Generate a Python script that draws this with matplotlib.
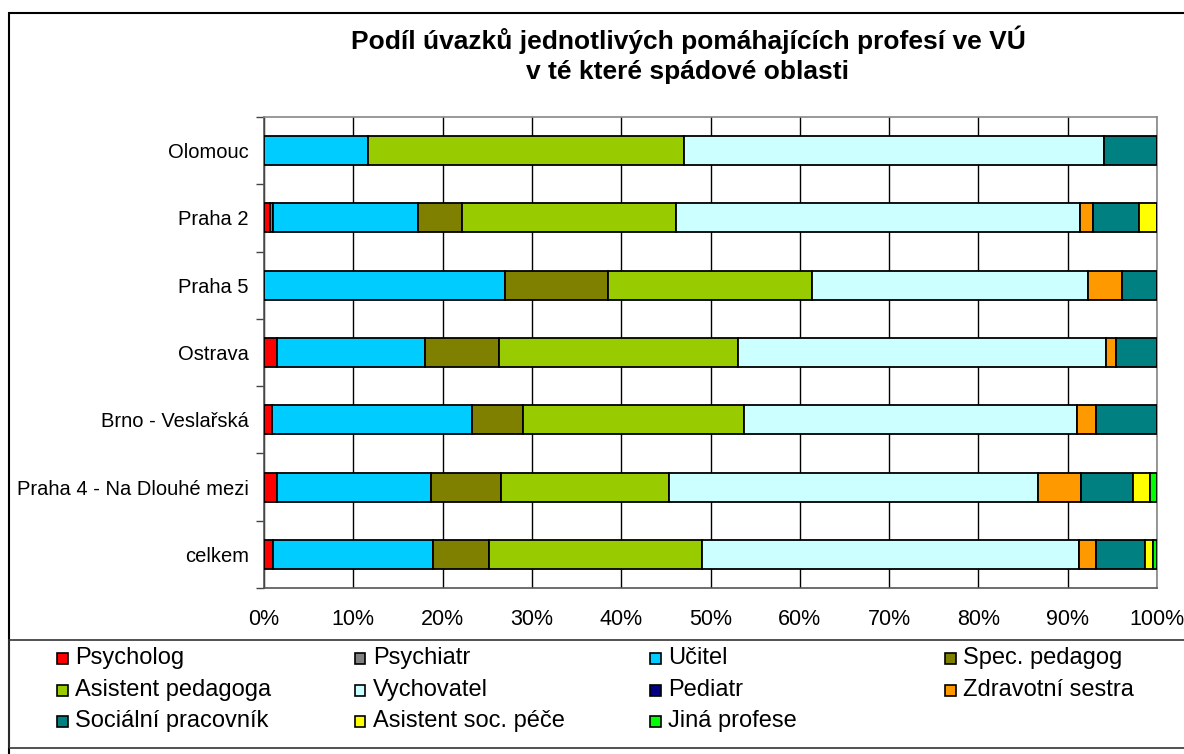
import numpy as np
import matplotlib
matplotlib.use("Agg")
import matplotlib.pyplot as plt
from matplotlib.patches import Rectangle

plt.rcParams['font.family'] = ['Liberation Sans', 'DejaVu Sans']

# data (share of each profession in %, categories top to bottom)
categories = ["Olomouc", "Praha 2", "Praha 5", "Ostrava", "Brno - Veslařská",
              "Praha 4 - Na Dlouhé mezi", "celkem"]
professions = ["Psycholog", "Psychiatr", "Učitel", "Spec. pedagog",
               "Asistent pedagoga", "Vychovatel", "Pediatr", "Zdravotní sestra",
               "Sociální pracovník", "Asistent soc. péče", "Jiná profese"]
psycholog = [0, 0.7, 0, 1.5, 0.9, 1.5, 1.0]
psychiatr = [0, 0.3, 0, 0, 0, 0, 0]
ucitel = [11.7, 16.3, 27.0, 16.5, 22.4, 17.2, 17.9]
spec_pedagog = [0, 4.9, 11.5, 8.3, 5.7, 7.8, 6.3]
asistent_ped = [35.3, 23.9, 22.9, 26.8, 24.8, 18.9, 23.8]
vychovatel = [47.1, 45.3, 30.9, 41.2, 37.2, 41.3, 42.3]
pediatr = [0, 0, 0, 0, 0, 0, 0]
zdrav_sestra = [0, 1.4, 3.8, 1.1, 2.2, 4.8, 1.9]
socialni = [5.9, 5.2, 3.9, 4.6, 6.8, 5.8, 5.5]
asistent_soc = [0, 2.0, 0, 0, 0, 1.9, 0.9]
jina = [0, 0, 0, 0, 0, 0.8, 0.4]
x_ticklabels = ["0%", "10%", "20%", "30%", "40%", "50%", "60%", "70%", "80%", "90%", "100%"]

series = [psycholog, psychiatr, ucitel, spec_pedagog, asistent_ped, vychovatel,
          pediatr, zdrav_sestra, socialni, asistent_soc, jina]
colors = ["#FF0000", "#808080", "#00CCFF", "#808000", "#99CC00", "#CCFFFF",
          "#000080", "#FF9900", "#008080", "#FFFF00", "#00FF00"]

W, H = 1184, 754
fig = plt.figure(figsize=(W / 100, H / 100), dpi=100)

def fx(px):
    return px / W

def fy(py):
    return 1 - py / H

# outer frame and legend frame
fig.patches.append(Rectangle((fx(9), fy(760)), 1.2, fy(12.5) - fy(760),
                             transform=fig.transFigure, fill=False,
                             edgecolor="black", linewidth=1.5))
fig.patches.append(Rectangle((fx(9), fy(748)), 1.2, fy(640) - fy(748),
                             transform=fig.transFigure, fill=False,
                             edgecolor="#333333", linewidth=1.2))

ax = fig.add_axes([fx(264), fy(588), fx(1157) - fx(264), fy(117) - fy(588)])

y = np.arange(len(categories))
left = np.zeros(len(categories))
for vals, col in zip(series, colors):
    vals = np.array(vals, dtype=float)
    ax.barh(y, vals, left=left, height=0.43, color=col, edgecolor="black",
            linewidth=1.3, zorder=3)
    left += vals

ax.set_xlim(0, 100)
ax.set_ylim(len(categories) - 0.5, -0.5)
ax.set_xticks(np.arange(0, 101, 10))
ax.set_xticklabels(x_ticklabels, fontsize=15.5)
ax.set_yticks(y)
ax.set_yticklabels(categories, fontsize=14.5)
ax.set_yticks(np.arange(-0.5, len(categories), 1), minor=True)
ax.tick_params(axis="x", length=0, pad=15)
ax.tick_params(axis="y", which="major", length=0, pad=11)
ax.tick_params(axis="y", which="minor", length=6, width=1, color="#444444")
ax.grid(axis="x", color="black", linewidth=1, zorder=0)
for s in ax.spines.values():
    s.set_color("#888888")
    s.set_linewidth(1.2)
ax.spines["left"].set_color("#555555")
ax.spines["bottom"].set_color("#555555")

fig.text(fx(688), fy(40), "Podíl úvazků jednotlivých pomáhajících profesí ve VÚ",
         ha="center", va="center", fontsize=19, fontweight="bold")
fig.text(fx(688), fy(72), "v té které spádové oblasti",
         ha="center", va="center", fontsize=19, fontweight="bold")

# legend, 4 columns
col_x = [62, 360, 655, 950]
row_y = [658, 690, 721]
for i, (name, col) in enumerate(zip(professions, colors)):
    cx = col_x[i % 4]
    cy = row_y[i // 4]
    fig.patches.append(Rectangle((fx(cx - 5.5), fy(cy + 5.5)), fx(11), fy(0) - fy(11),
                                 transform=fig.transFigure, facecolor=col,
                                 edgecolor="black", linewidth=1.2))
    fig.text(fx(cx + 13), fy(cy), name, ha="left", va="center", fontsize=17)

fig.savefig("out.png", dpi=100)
